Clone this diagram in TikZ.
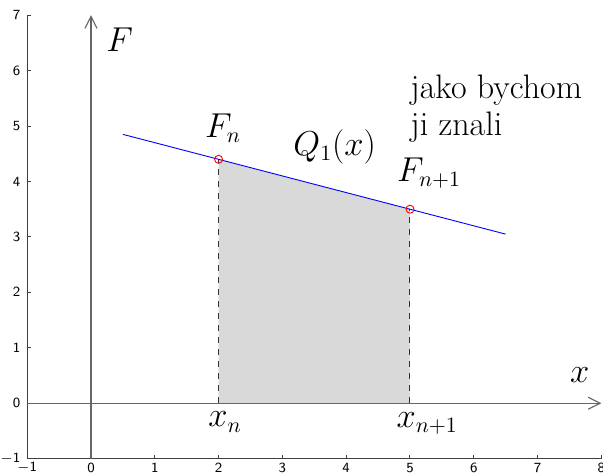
\documentclass[tikz,border=0pt]{standalone}
\usepackage{amsmath,amssymb}
\usepackage{tikz}
\usetikzlibrary{arrows.meta}
\tikzset{
boxaxis/.style={draw=black!75,line width=0.5pt},
tick/.style={black!75,line width=0.5pt},
ticklabel/.style={font=\fontsize{7.5}{9}\selectfont,inner sep=0pt},
mainaxis/.style={-{Straight Barb[length=6pt,width=6pt]},draw=black!60,line width=0.55pt},
guide/.style={dashed,black!80,line width=0.5pt},
area/.style={fill=black!15},
secant/.style={blue,line width=0.45pt},
knot/.style={draw=red,line width=0.45pt,circle,minimum size=4pt,inner sep=0pt,fill=none},
lbl/.style={font=\fontsize{16}{19}\selectfont,inner sep=0pt},
note/.style={font=\fontsize{17}{18.5}\selectfont,inner sep=0pt,align=left}
}

\begin{document}
\begin{tikzpicture}[x=1.121cm,y=0.974cm]
\useasboundingbox (-1.426,-1.300) rectangle (8.025,7.274);
% axes box
\coordinate (bl) at (-1,-1);
\coordinate (tl) at (-1,7);
\coordinate (br) at (8,-1);
\draw[boxaxis] (tl) -- (bl) -- (br);
\foreach \i in {-1,...,8} {
  \draw[tick] (\i,-1) -- ++(0,2pt);
  \node[ticklabel] (xt\i) at (\i,-1.16) {$\mathsf{\i}$};
}
\foreach \j in {-1,...,7} {
  \draw[tick] (-1,\j) -- ++(2pt,0);
  \node[ticklabel,anchor=east] (yt\j) at (-1.1,\j) {$\mathsf{\j}$};
}
% shaded area
\coordinate (xn) at (2,0);
\coordinate (xm) at (5,0);
\coordinate (fn) at (2,4.4);
\coordinate (fm) at (5,3.5);
\fill[area] (xn) -- (fn) -- (fm) -- (xm) -- cycle;
\draw[guide] (xn) -- (fn);
\draw[guide] (xm) -- (fm);
% axes
\coordinate (ax0) at (-1,0);
\coordinate (ax1) at (8,0);
\coordinate (ay0) at (0,-1);
\coordinate (ay1) at (0,7);
\draw[mainaxis] (ax0) -- (ax1);
\draw[mainaxis] (ay0) -- (ay1);
% line Q1
\coordinate (qa) at (0.5,4.85);
\coordinate (qb) at (6.5,3.05);
\draw[secant] (qa) -- (qb);
\node[knot] (pn) at (fn) {};
\node[knot] (pm) at (fm) {};
% labels
\node[lbl] (lF) at (0.45,6.55) {$F$};
\node[lbl] (lx) at (7.66,0.5) {$x$};
\node[lbl] (lxn) at (2.1,-0.34) {$x_n$};
\node[lbl] (lxm) at (5.27,-0.36) {$x_{n+1}$};
\node[lbl] (lFn) at (2.07,4.96) {$F_n$};
\node[lbl] (lQ) at (3.82,4.62) {$Q_1(x)$};
\node[lbl] (lFm) at (5.30,4.15) {$F_{n+1}$};
\node[note,anchor=west] (jako) at (5.0,5.32) {jako bychom\\ji znali};
\end{tikzpicture}
\end{document}
